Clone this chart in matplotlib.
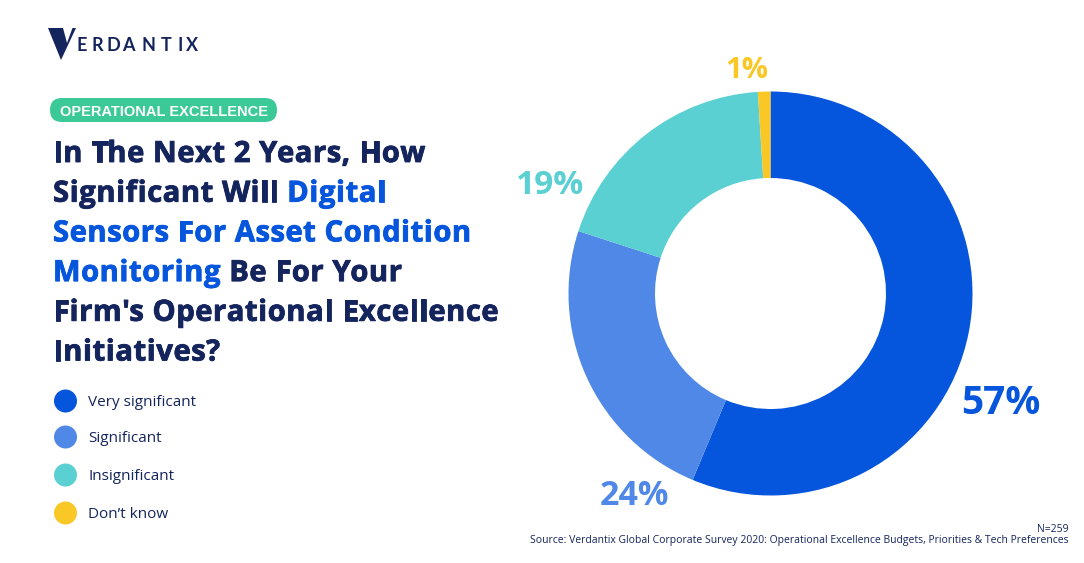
import matplotlib
matplotlib.use("Agg")
import matplotlib.pyplot as plt
import matplotlib.patheffects as pe
from matplotlib.patches import Circle, FancyBboxPatch, Polygon

plt.rcParams["font.family"] = ["Open Sans", "Noto Sans", "DejaVu Sans"]

NAVY = "#14245c"
BLUE = "#0556dc"

categories = ["Very significant", "Significant", "Insignificant", "Don’t know"]
# slice sizes as measured off the ring; printed labels are the rounded ones
values = [56.3, 23.7, 19, 1]
labels = ["57%", "24%", "19%", "1%"]
colors = [BLUE, "#4f88e6", "#5bd0d3", "#f9c827"]

# (text, highlighted) runs per title line
title_lines = [
    [("In The Next 2 Years, How", False)],
    [("Significant Will ", False), ("Digital", True)],
    [("Sensors For Asset Condition", True)],
    [("Monitoring", True), (" Be For Your", False)],
    [("Firm's Operational Excellence", False)],
    [("Initiatives?", False)],
]


def draw_title(ax, fig):
    renderer = fig.canvas.get_renderer()
    for i, runs in enumerate(title_lines):
        x = 53
        y = 162 + i * 39.7
        for run, hl in runs:
            col = BLUE if hl else NAVY
            for ch in run:
                ax.text(x, y, ch, fontsize=21, fontweight="bold", color=col, ha="left", va="baseline",
                        path_effects=[pe.withStroke(linewidth=0.6, foreground=col)])
                # no way to track letters in mpl, so step by hand
                probe = ax.text(0, 0, "n" + ch + "n", fontsize=21, fontweight="bold")
                base = ax.text(0, 0, "nn", fontsize=21, fontweight="bold")
                w = probe.get_window_extent(renderer).width - base.get_window_extent(renderer).width
                probe.remove()
                base.remove()
                x += w + 0.57


def main():
    fig = plt.figure(figsize=(10.84, 5.63), dpi=100)

    # page layer in pixel coordinates
    page = fig.add_axes([0, 0, 1, 1])
    page.set_xlim(0, 1084)
    page.set_ylim(563, 0)
    page.axis("off")

    # logo
    page.add_patch(Polygon([(48, 28), (63, 28), (67, 43), (72.5, 28), (76, 28), (61, 60)],
                           closed=True, color=NAVY, lw=0))
    for ch, x in zip("ERDANTIX", [76.5, 91.5, 106.5, 122.5, 141.5, 160.5, 177.5, 185.5]):
        page.text(x, 51, ch, fontsize=13, color=NAVY, ha="left", va="baseline",
                  fontfamily="Lato", fontweight="bold")

    # tag
    page.add_patch(FancyBboxPatch((50, 98), 227, 24, boxstyle="round,pad=0,rounding_size=12",
                                  fc="#3bc998", ec="none"))
    page.text(163.5, 112, "OPERATIONAL EXCELLENCE", fontsize=10.5, fontweight="bold", color="white",
              ha="center", va="center", fontfamily="Liberation Sans")

    draw_title(page, fig)

    # legend
    for name, col, y in zip(categories, colors, [401, 437, 475, 513]):
        page.add_patch(Circle((65.5, y), 11.5, fc=col, ec="none"))
        page.text(88.5, y + 1, name, fontsize=11, color=NAVY, ha="left", va="center")

    # donut
    cx, cy, r = 770.5, 293.5, 202
    ax = fig.add_axes([(cx - r) / 1084, 1 - (cy + r) / 563, 2 * r / 1084, 2 * r / 563])
    ax.pie(values, colors=colors, startangle=90, counterclock=False, radius=1,
           wedgeprops=dict(width=1 - 115.5 / 202, linewidth=0))
    ax.set_xlim(-1, 1)
    ax.set_ylim(-1, 1)

    # slice labels
    for lab, col, (lx, ly, fs) in zip(labels, colors, [(1001, 403, 28), (634.5, 496, 24.5),
                                                       (550.5, 186, 24), (747, 70, 21)]):
        page.text(lx, ly, lab, fontsize=fs, fontweight="bold", color=col, ha="center", va="center")

    # footnote
    page.text(1069, 529, "N=259", fontsize=7.5, color=NAVY, ha="right", va="center")
    page.text(1069, 541, "Source: Verdantix Global Corporate Survey 2020: Operational Excellence Budgets, Priorities & Tech Preferences",
              fontsize=7.5, color=NAVY, ha="right", va="center")

    fig.savefig("out.png", dpi=100)


if __name__ == "__main__":
    main()
